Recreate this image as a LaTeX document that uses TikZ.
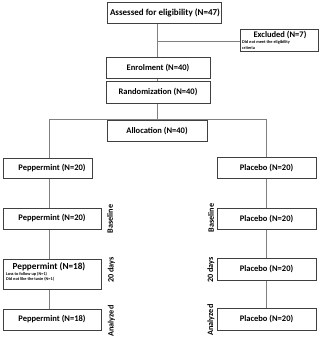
\documentclass[tikz,border=0pt]{standalone}
\usepackage{fontspec}
\setmainfont{Carlito}
\definecolor{boxline}{HTML}{404040}
\definecolor{conline}{HTML}{808080}
\begin{document}
\begin{tikzpicture}[x=1pt,y=-1pt,
  flowbox/.style={draw=boxline,line width=0.9pt,inner sep=0pt,anchor=north west},
  lbl/.style={font=\bfseries\fontsize{8.5}{9}\selectfont,inner sep=0pt},
  biglbl/.style={font=\bfseries\fontsize{9.2}{10}\selectfont,inner sep=0pt},
  tiny/.style={font=\bfseries\fontsize{4.3}{5}\selectfont,inner sep=0pt,anchor=west},
  side/.style={font=\bfseries\fontsize{8.2}{9}\selectfont,inner sep=0pt,rotate=90},
  con/.style={draw=conline,line width=0.9pt}]
\useasboundingbox (0,0) rectangle (320,341);
% boxes
\node[flowbox,minimum width=114pt,minimum height=21pt] (assess) at (107,2) {};
\node[lbl,font=\bfseries\fontsize{9}{10}\selectfont] (assesst) at (165,12.5) {Assessed for eligibility (N=47)};
\node[flowbox,minimum width=78pt,minimum height=22pt] (excl) at (240,29) {};
\node[lbl] (exclt) at (280,35) {Excluded (N=7)};
\node[tiny] (excl1) at (242,42.5) {Did not meet the eligibility};
\node[tiny] (excl2) at (242,48) {criteria};
\node[flowbox,minimum width=104pt,minimum height=21pt] (enrol) at (106,57) {};
\node[lbl] (enrolt) at (158,67.5) {Enrolment (N=40)};
\node[flowbox,minimum width=104pt,minimum height=22pt] (rand) at (106,81) {};
\node[lbl] (randt) at (158,92) {Randomization (N=40)};
\node[flowbox,minimum width=100pt,minimum height=21pt] (alloc) at (107,120) {};
\node[lbl] (alloct) at (157,130.5) {Allocation (N=40)};
% left column
\node[flowbox,minimum width=89pt,minimum height=20pt] (pa) at (3,158) {};
\node[lbl] (pat) at (52,168) {Peppermint (N=20)};
\node[flowbox,minimum width=98pt,minimum height=21pt] (pb) at (3,208) {};
\node[lbl] (pbt) at (52,218.5) {Peppermint (N=20)};
\node[flowbox,minimum width=98pt,minimum height=30pt] (pc) at (3,259) {};
\node[biglbl] (pct) at (49,266.5) {Peppermint (N=18)};
\node[tiny] (pc1) at (6,274) {Loss to follow up (N=1)};
\node[tiny] (pc2) at (6,279.5) {Did not like the taste (N=1)};
\node[flowbox,minimum width=98pt,minimum height=21pt] (pd) at (3,309) {};
\node[lbl] (pdt) at (52,319.5) {Peppermint (N=18)};
% right column
\node[flowbox,minimum width=99pt,minimum height=21pt] (qa) at (217,157) {};
\node[lbl] (qat) at (266.5,167.5) {Placebo (N=20)};
\node[flowbox,minimum width=99pt,minimum height=21pt] (qb) at (217,208) {};
\node[lbl] (qbt) at (266.5,218.5) {Placebo (N=20)};
\node[flowbox,minimum width=99pt,minimum height=22pt] (qc) at (217,258) {};
\node[lbl] (qct) at (266.5,269) {Placebo (N=20)};
\node[flowbox,minimum width=99pt,minimum height=22pt] (qd) at (217,308) {};
\node[lbl] (qdt) at (266.5,319) {Placebo (N=20)};
% side labels
\node[side] (lb) at (110,219) {Baseline};
\node[side] (l20) at (111.5,270) {20 days};
\node[side] (lan) at (111.5,321) {Analyzed};
\node[side] (rb) at (211,218) {Baseline};
\node[side] (r20) at (211,270) {20 days};
\node[side] (ran) at (211,320) {Analyzed};
% column coordinates
\coordinate (mcol) at (157,0);
\coordinate (lcol) at (49,0);
\coordinate (rcol) at (266,0);
\coordinate (split) at (157,119);
\coordinate (lsplit) at (49,119);
\coordinate (rsplit) at (266,119);
\coordinate (exj) at (157,41);
% connectors
\draw[con] (assess.south -| mcol) -- (enrol.north -| mcol);
\draw[con] (exj) -- (exj -| excl.west);
\draw[con] (enrol.south -| mcol) -- (rand.north -| mcol);
\draw[con] (rand.south -| mcol) -- (split);
\draw[con] (lsplit) -- (rsplit);
\draw[con] (lsplit) -- (pa.north -| lcol);
\draw[con] (rsplit) -- (qa.north -| rcol);
\draw[con] (pa.south -| lcol) -- (pb.north -| lcol);
\draw[con] (pb.south -| lcol) -- (pc.north -| lcol);
\draw[con] (pc.south -| lcol) -- (pd.north -| lcol);
\draw[con] (qa.south -| rcol) -- (qb.north -| rcol);
\draw[con] (qb.south -| rcol) -- (qc.north -| rcol);
\draw[con] (qc.south -| rcol) -- (qd.north -| rcol);
\end{tikzpicture}
\end{document}
